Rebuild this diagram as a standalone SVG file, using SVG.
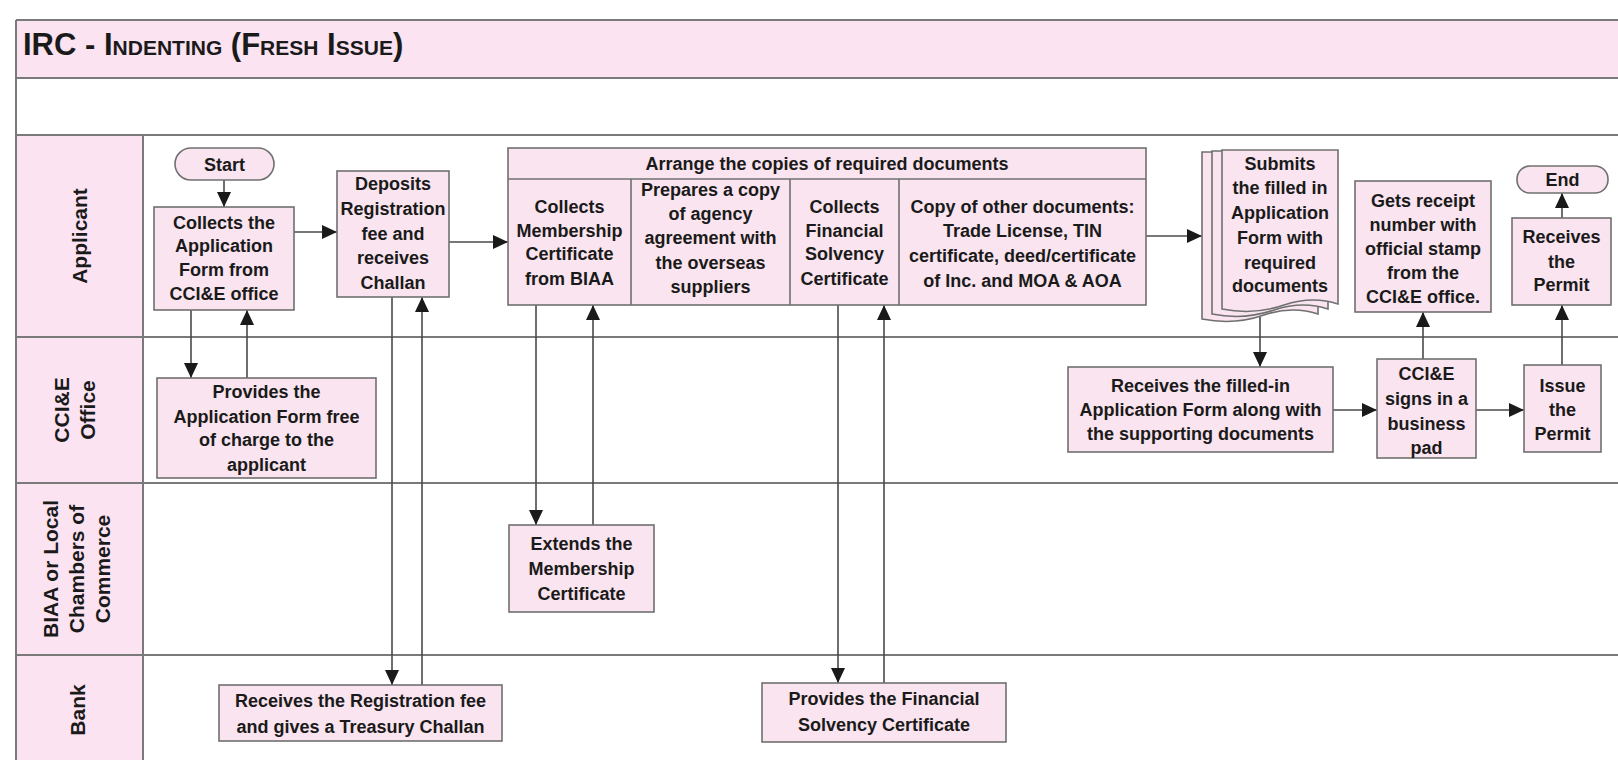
<svg xmlns="http://www.w3.org/2000/svg" width="1618" height="760" viewBox="0 0 1618 760">
<defs>
<style>
.band{fill:#FBE3F1;stroke:none}
.lane{stroke:#7a7a7a;stroke-width:2;fill:none}
.box{fill:#F9E4EF;stroke:#707070;stroke-width:1.6}
.t{font-family:"Liberation Sans",Arial,sans-serif;font-weight:bold;font-size:18px;fill:#1a1a1a;text-anchor:middle}
.lbl{font-family:"Liberation Sans",Arial,sans-serif;font-weight:bold;font-size:21px;fill:#1a1a1a;text-anchor:middle}
.title{font-family:"Liberation Sans",Arial,sans-serif;font-weight:bold;font-size:31px;fill:#1a1a1a}
.c{stroke:#4a4a4a;stroke-width:1.6;fill:none;marker-end:url(#ah)}
</style>
<marker id="ah" markerUnits="userSpaceOnUse" markerWidth="16" markerHeight="14" refX="15" refY="7" orient="auto">
<path d="M0,0 L15,7 L0,14 Z" fill="#1a1a1a"/>
</marker>
</defs>
<g id="frame">
<rect class="band" x="16" y="20" width="1602" height="58"/>
<rect class="band" x="16" y="135" width="127" height="625"/>
<path class="lane" d="M16,20 H1618 M16,78 H1618 M16,135 H1618 M16,337 H1618 M16,483 H1618 M16,655 H1618 M16,20 V760 M143,135 V760"/>
<text class="title" x="23" y="55">IRC - I<tspan font-size="21">NDENTING</tspan> (F<tspan font-size="21">RESH</tspan> I<tspan font-size="21">SSUE</tspan>)</text>
</g>
<g id="lane-labels">
<text class="lbl" transform="translate(80,236) rotate(-90)" y="7">Applicant</text>
<text class="lbl" transform="translate(75,410) rotate(-90)"><tspan x="0" y="-6">CCI&amp;E</tspan><tspan x="0" y="20">Office</tspan></text>
<text class="lbl" transform="translate(77,569) rotate(-90)"><tspan x="0" y="-19">BIAA or Local</tspan><tspan x="0" y="7">Chambers of</tspan><tspan x="0" y="33">Commerce</tspan></text>
<text class="lbl" transform="translate(78,710) rotate(-90)" y="7">Bank</text>
</g>
<g id="connectors">
<path class="c" d="M224,180 V207"/>
<path class="c" d="M294,232 H337"/>
<path class="c" d="M449,242 H508"/>
<path class="c" d="M1146,236 H1202"/>
<path class="c" d="M191,310 V378"/>
<path class="c" d="M247,378 V310"/>
<path class="c" d="M392,297 V685"/>
<path class="c" d="M422,685 V297"/>
<path class="c" d="M536,305 V525"/>
<path class="c" d="M593,525 V305"/>
<path class="c" d="M838,305 V683"/>
<path class="c" d="M884,683 V305"/>
<path class="c" d="M1260,316 V367"/>
<path class="c" d="M1333,410 H1377"/>
<path class="c" d="M1423,359 V312"/>
<path class="c" d="M1476,410 H1524"/>
<path class="c" d="M1562,365 V305"/>
<path class="c" d="M1562,218 V193"/>
</g>
<g id="start">
<rect class="box" x="175" y="148" width="99" height="32" rx="16"/>
<text class="t" x="224.5" y="171">Start</text>
</g>
<g id="collects-form">
<rect class="box" x="154" y="207" width="140" height="103"/>
<text class="t"><tspan x="224" y="229">Collects the</tspan><tspan x="224" y="252">Application</tspan><tspan x="224" y="276">Form from</tspan><tspan x="224" y="300">CCI&amp;E office</tspan></text>
</g>
<g id="deposits">
<rect class="box" x="337" y="171" width="112" height="126"/>
<text class="t"><tspan x="393" y="190">Deposits</tspan><tspan x="393" y="215">Registration</tspan><tspan x="393" y="240">fee and</tspan><tspan x="393" y="264">receives</tspan><tspan x="393" y="289">Challan</tspan></text>
</g>
<g id="arrange">
<rect class="box" x="508" y="148" width="638" height="157"/>
<path class="box" d="M508,179 H1146 M631,179 V305 M790,179 V305 M899,179 V305"/>
<text class="t" x="827" y="170">Arrange the copies of required documents</text>
<text class="t"><tspan x="569.5" y="213">Collects</tspan><tspan x="569.5" y="237">Membership</tspan><tspan x="569.5" y="260">Certificate</tspan><tspan x="569.5" y="285">from BIAA</tspan></text>
<text class="t"><tspan x="710.5" y="196">Prepares a copy</tspan><tspan x="710.5" y="220">of agency</tspan><tspan x="710.5" y="244">agreement with</tspan><tspan x="710.5" y="269">the overseas</tspan><tspan x="710.5" y="293">suppliers</tspan></text>
<text class="t"><tspan x="844.5" y="213">Collects</tspan><tspan x="844.5" y="237">Financial</tspan><tspan x="844.5" y="260">Solvency</tspan><tspan x="844.5" y="285">Certificate</tspan></text>
<text class="t"><tspan x="1022.5" y="213">Copy of other documents:</tspan><tspan x="1022.5" y="237">Trade License, TIN</tspan><tspan x="1022.5" y="262">certificate, deed/certificate</tspan><tspan x="1022.5" y="287">of Inc. and MOA &amp; AOA</tspan></text>
</g>
<g id="submits">
<path class="box" d="M1202,152 H1318 V314 C1300,308 1282,309 1264,315 C1244,322 1222,323 1202,319 Z"/>
<path class="box" d="M1212,151 H1328 V309 C1310,303 1292,304 1274,310 C1254,317 1232,318 1212,314 Z"/>
<path class="box" d="M1222,150 H1338 V304 C1320,298 1302,299 1284,305 C1264,312 1242,313 1222,309 Z"/>
<text class="t"><tspan x="1280" y="170">Submits</tspan><tspan x="1280" y="194">the filled in</tspan><tspan x="1280" y="219">Application</tspan><tspan x="1280" y="244">Form with</tspan><tspan x="1280" y="269">required</tspan><tspan x="1280" y="292">documents</tspan></text>
</g>
<g id="gets-receipt">
<rect class="box" x="1355" y="181" width="136" height="131"/>
<text class="t"><tspan x="1423" y="207">Gets receipt</tspan><tspan x="1423" y="231">number with</tspan><tspan x="1423" y="255">official stamp</tspan><tspan x="1423" y="279">from the</tspan><tspan x="1423" y="303">CCI&amp;E office.</tspan></text>
</g>
<g id="end">
<rect class="box" x="1517" y="166" width="91" height="27" rx="13"/>
<text class="t" x="1562.5" y="186">End</text>
</g>
<g id="receives-permit">
<rect class="box" x="1512" y="218" width="99" height="87"/>
<text class="t"><tspan x="1561.5" y="243">Receives</tspan><tspan x="1561.5" y="268">the</tspan><tspan x="1561.5" y="291">Permit</tspan></text>
</g>
<g id="provides-form">
<rect class="box" x="157" y="378" width="219" height="100"/>
<text class="t"><tspan x="266.5" y="398">Provides the</tspan><tspan x="266.5" y="423">Application Form free</tspan><tspan x="266.5" y="446">of charge to the</tspan><tspan x="266.5" y="471">applicant</tspan></text>
</g>
<g id="receives-filled">
<rect class="box" x="1068" y="367" width="265" height="85"/>
<text class="t"><tspan x="1200.5" y="392">Receives the filled-in</tspan><tspan x="1200.5" y="416">Application Form along with</tspan><tspan x="1200.5" y="440">the supporting documents</tspan></text>
</g>
<g id="signs">
<rect class="box" x="1377" y="359" width="99" height="99"/>
<text class="t"><tspan x="1426.5" y="380">CCI&amp;E</tspan><tspan x="1426.5" y="405">signs in a</tspan><tspan x="1426.5" y="430">business</tspan><tspan x="1426.5" y="454">pad</tspan></text>
</g>
<g id="issue">
<rect class="box" x="1524" y="365" width="77" height="87"/>
<text class="t"><tspan x="1562.5" y="392">Issue</tspan><tspan x="1562.5" y="416">the</tspan><tspan x="1562.5" y="440">Permit</tspan></text>
</g>
<g id="extends">
<rect class="box" x="509" y="525" width="145" height="87"/>
<text class="t"><tspan x="581.5" y="550">Extends the</tspan><tspan x="581.5" y="575">Membership</tspan><tspan x="581.5" y="600">Certificate</tspan></text>
</g>
<g id="bank-registration">
<rect class="box" x="219" y="685" width="283" height="56"/>
<text class="t"><tspan x="360.5" y="707">Receives the Registration fee</tspan><tspan x="360.5" y="733">and gives a Treasury Challan</tspan></text>
</g>
<g id="bank-financial">
<rect class="box" x="762" y="683" width="244" height="59"/>
<text class="t"><tspan x="884" y="705">Provides the Financial</tspan><tspan x="884" y="731">Solvency Certificate</tspan></text>
</g>
</svg>
